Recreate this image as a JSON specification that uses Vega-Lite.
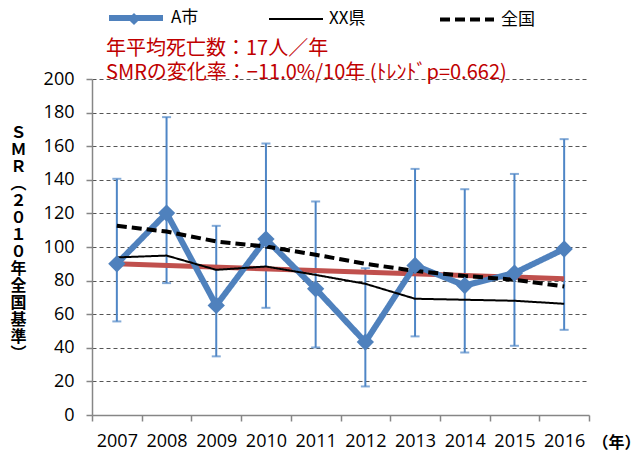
{
  "$schema": "https://vega.github.io/schema/vega-lite/v6.json",
  "width": 497,
  "height": 336,
  "autosize": {"type": "none"},
  "padding": {"left": 92, "top": 79, "right": 54, "bottom": 42},
  "background": "white",
  "config": {
    "font": "Noto Sans CJK JP",
    "view": {"stroke": null},
    "axis": {"labelFont": "Open Sans", "labelFontSize": 18, "labelColor": "black", "domainColor": "#868686", "tickColor": "#868686", "domainWidth": 1.5, "tickWidth": 1.5}
  },
  "datasets": {
    "lines": [
      {"year": 2007, "series": "A市", "value": 90.0},
      {"year": 2008, "series": "A市", "value": 120.2},
      {"year": 2009, "series": "A市", "value": 65.2},
      {"year": 2010, "series": "A市", "value": 104.7},
      {"year": 2011, "series": "A市", "value": 75.1},
      {"year": 2012, "series": "A市", "value": 43.4},
      {"year": 2013, "series": "A市", "value": 89.0},
      {"year": 2014, "series": "A市", "value": 77.1},
      {"year": 2015, "series": "A市", "value": 84.5},
      {"year": 2016, "series": "A市", "value": 98.8},
      {"year": 2007, "series": "XX県", "value": 93.8},
      {"year": 2008, "series": "XX県", "value": 94.9},
      {"year": 2009, "series": "XX県", "value": 86.4},
      {"year": 2010, "series": "XX県", "value": 88.4},
      {"year": 2011, "series": "XX県", "value": 83.4},
      {"year": 2012, "series": "XX県", "value": 78.1},
      {"year": 2013, "series": "XX県", "value": 69.2},
      {"year": 2014, "series": "XX県", "value": 68.6},
      {"year": 2015, "series": "XX県", "value": 68.0},
      {"year": 2016, "series": "XX県", "value": 66.2},
      {"year": 2007, "series": "全国", "value": 112.6},
      {"year": 2008, "series": "全国", "value": 109.2},
      {"year": 2009, "series": "全国", "value": 103.3},
      {"year": 2010, "series": "全国", "value": 100.3},
      {"year": 2011, "series": "全国", "value": 95.4},
      {"year": 2012, "series": "全国", "value": 90.0},
      {"year": 2013, "series": "全国", "value": 85.8},
      {"year": 2014, "series": "全国", "value": 82.8},
      {"year": 2015, "series": "全国", "value": 80.5},
      {"year": 2016, "series": "全国", "value": 76.5}
    ],
    "city": [
      {"year": 2007, "series": "A市", "value": 90.0, "lo": 55.7, "hi": 140.6},
      {"year": 2008, "series": "A市", "value": 120.2, "lo": 78.5, "hi": 177.3},
      {"year": 2009, "series": "A市", "value": 65.2, "lo": 34.9, "hi": 112.6},
      {"year": 2010, "series": "A市", "value": 104.7, "lo": 63.8, "hi": 161.6},
      {"year": 2011, "series": "A市", "value": 75.1, "lo": 40.2, "hi": 127.1},
      {"year": 2012, "series": "A市", "value": 43.4, "lo": 17.0, "hi": 87.4},
      {"year": 2013, "series": "A市", "value": 89.0, "lo": 46.8, "hi": 146.5},
      {"year": 2014, "series": "A市", "value": 77.1, "lo": 37.2, "hi": 134.4},
      {"year": 2015, "series": "A市", "value": 84.5, "lo": 41.2, "hi": 143.5},
      {"year": 2016, "series": "A市", "value": 98.8, "lo": 50.7, "hi": 164.2}
    ],
    "trend": [
      {"year": 2007, "value": 90.0},
      {"year": 2016, "value": 81.1}
    ]
  },
  "encoding": {
    "x": {
      "field": "year", "type": "ordinal",
      "scale": {"type": "band", "paddingInner": 0, "paddingOuter": 0, "domain": [2007, 2008, 2009, 2010, 2011, 2012, 2013, 2014, 2015, 2016]},
      "axis": {"labelAngle": 0, "tickBand": "extent", "tickSize": 6, "labelPadding": 11, "grid": false,
        "title": "（年）", "titleFontSize": 16, "titleFontWeight": "bold", "titleColor": "black", "titleX": 524, "titleY": 27, "titleAlign": "center", "titleBaseline": "middle"}
    },
    "y": {
      "type": "quantitative",
      "scale": {"domain": [0, 200], "nice": false, "zero": true},
      "axis": {"values": [0, 20, 40, 60, 80, 100, 120, 140, 160, 180, 200], "tickSize": 6, "labelPadding": 12,
        "grid": true, "gridColor": "#555555", "gridDash": [4, 3], "gridWidth": 1,
        "gridOpacity": {"condition": {"test": "datum.value === 0", "value": 0}, "value": 1},
        "title": ["Ｓ", "Ｍ", "Ｒ", "︵", "２", "０", "１", "０", "年", "全", "国", "基", "準", "︶"],
        "titleAngle": 0, "titleFontSize": 16, "titleFontWeight": "bold", "titleColor": "black", "titleLineHeight": 17,
        "titleX": -74, "titleY": 45, "titleAlign": "center", "titleBaseline": "top"}
    }
  },
  "layer": [
    {
      "data": {"name": "city"},
      "mark": {"type": "rule", "color": "#4F86C6", "strokeWidth": 2},
      "encoding": {"y": {"field": "lo", "type": "quantitative"}, "y2": {"field": "hi"}}
    },
    {
      "data": {"name": "city"},
      "transform": [{"fold": ["lo", "hi"], "as": ["bound", "bv"]}],
      "mark": {"type": "tick", "color": "#4F86C6", "thickness": 2, "size": 9, "orient": "horizontal"},
      "encoding": {"y": {"field": "bv", "type": "quantitative"}}
    },
    {
      "data": {"name": "trend"},
      "mark": {"type": "line", "color": "#C0504D", "strokeWidth": 5},
      "encoding": {"y": {"field": "value", "type": "quantitative"}}
    },
    {
      "data": {"name": "lines"},
      "mark": {"type": "line"},
      "encoding": {
        "y": {"field": "value", "type": "quantitative"},
        "color": {"field": "series", "type": "nominal",
          "scale": {"domain": ["A市", "XX県", "全国"], "range": ["#4F81BD", "#000000", "#000000"]},
          "legend": {"orient": "none", "legendX": 14, "legendY": -91, "direction": "horizontal",
            "title": ["年平均死亡数：17人／年", "SMRの変化率：−11.0%/10年 (ﾄﾚﾝﾄﾞp=0.662)"], "titleLimit": 2000,
            "titleOrient": "bottom", "titleAnchor": "start", "titleColor": "#C00000", "titleFontSize": 20, "titleFontWeight": "normal", "titleLineHeight": 24, "titlePadding": 9,
            "labelFontSize": 17, "labelColor": "black", "labelOffset": 5, "columnPadding": 66, "symbolType": "stroke", "symbolSize": 2916}},
        "strokeDash": {"field": "series", "type": "nominal",
          "scale": {"domain": ["A市", "XX県", "全国"], "range": [[1, 0], [1, 0], [10, 5]]},
          "legend": {"orient": "none", "legendX": 14, "legendY": -91, "direction": "horizontal",
            "title": ["年平均死亡数：17人／年", "SMRの変化率：−11.0%/10年 (ﾄﾚﾝﾄﾞp=0.662)"], "titleLimit": 2000,
            "titleOrient": "bottom", "titleAnchor": "start", "titleColor": "#C00000", "titleFontSize": 20, "titleFontWeight": "normal", "titleLineHeight": 24, "titlePadding": 9,
            "labelFontSize": 17, "labelColor": "black", "labelOffset": 5, "columnPadding": 66, "symbolType": "stroke", "symbolSize": 2916}},
        "strokeWidth": {"field": "series", "type": "nominal",
          "scale": {"type": "ordinal", "domain": ["A市", "XX県", "全国"], "range": [6, 2, 4]},
          "legend": {"orient": "none", "legendX": 14, "legendY": -91, "direction": "horizontal",
            "title": ["年平均死亡数：17人／年", "SMRの変化率：−11.0%/10年 (ﾄﾚﾝﾄﾞp=0.662)"], "titleLimit": 2000,
            "titleOrient": "bottom", "titleAnchor": "start", "titleColor": "#C00000", "titleFontSize": 20, "titleFontWeight": "normal", "titleLineHeight": 24, "titlePadding": 9,
            "labelFontSize": 17, "labelColor": "black", "labelOffset": 5, "columnPadding": 66, "symbolType": "stroke", "symbolSize": 2916}}
      }
    },
    {
      "data": {"name": "city"},
      "mark": {"type": "point", "shape": "diamond", "filled": true, "size": 300, "opacity": 1},
      "encoding": {
        "y": {"field": "value", "type": "quantitative"},
        "fill": {"field": "series", "type": "nominal",
          "scale": {"domain": ["A市"], "range": ["#4F81BD"]},
          "legend": {"orient": "none", "legendX": 35, "legendY": -67, "title": null, "labelExpr": "''", "symbolType": "diamond", "symbolSize": 150, "symbolOpacity": 1}}
      }
    }
  ]
}
